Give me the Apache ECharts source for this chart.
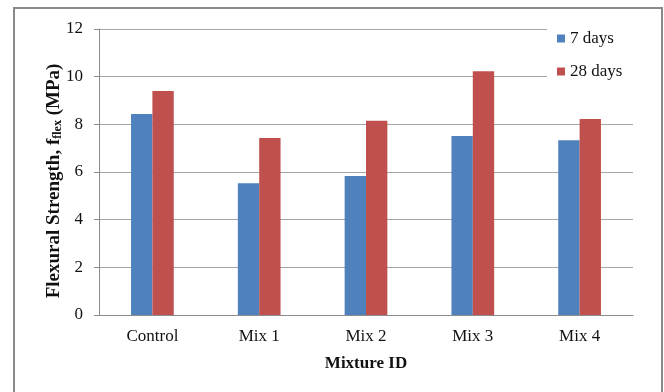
<!DOCTYPE html>
<html>
<head>
<meta charset="utf-8">
<script src="https://cdn.jsdelivr.net/npm/echarts@6/dist/echarts.min.js"></script>
<style>
  html, body { margin: 0; padding: 0; background: #fff; }
  #chart { width: 664px; height: 392px; }
</style>
</head>
<body>
<div id="chart"></div>
<script>
// Flexural strength by mixture at 7 and 28 days
const categories = ['Control', 'Mix 1', 'Mix 2', 'Mix 3', 'Mix 4'];
const days7 = [8.43, 5.53, 5.83, 7.51, 7.33];
const days28 = [9.40, 7.43, 8.15, 10.23, 8.22];
const yTicks = { min: 0, max: 12, interval: 2 };

const serif = '"Liberation Serif", "Times New Roman", serif';
const chart = echarts.init(document.getElementById('chart'), null, { renderer: 'canvas' });

chart.setOption({
  animation: false,
  backgroundColor: '#fff',
  textStyle: { fontFamily: serif },
  graphic: [{
    type: 'rect',
    shape: { x: 14, y: 8, width: 648, height: 400 },
    style: { fill: 'none', stroke: '#8a8a8a', lineWidth: 2 },
    z: 100
  }],
  grid: { left: 99, right: 31, top: 29, bottom: 77, containLabel: false },
  legend: {
    orient: 'vertical',
    left: 547,
    top: 26,
    padding: [4, 20, 12, 10],
    backgroundColor: '#fff',
    itemWidth: 8,
    itemHeight: 8,
    itemGap: 16,
    icon: 'rect',
    textStyle: { fontFamily: serif, fontSize: 17, color: '#111', padding: [0, 0, 0, 0] },
    data: ['7 days', '28 days'],
    z: 10
  },
  xAxis: {
    type: 'category',
    data: categories,
    axisLine: { lineStyle: { color: '#8c8c8c', width: 1 } },
    axisTick: { show: false },
    axisLabel: { fontFamily: serif, fontSize: 17, color: '#111', margin: 13 },
    name: 'Mixture ID',
    nameLocation: 'middle',
    nameGap: 40,
    nameMoveOverlap: false,
    nameTextStyle: { fontFamily: serif, fontSize: 17, fontWeight: 'bold', color: '#111' }
  },
  yAxis: {
    type: 'value',
    min: yTicks.min,
    max: yTicks.max,
    interval: yTicks.interval,
    axisLine: { show: true, lineStyle: { color: '#8c8c8c', width: 1 } },
    axisTick: { show: true, length: 5, lineStyle: { color: '#8c8c8c' } },
    axisLabel: { fontFamily: serif, fontSize: 17, color: '#111', margin: 16 },
    splitLine: { lineStyle: { color: '#a6a6a6', width: 1 } },
    name: '{b|Flexural Strength, f}{s|flex}{b| (MPa)}',
    nameLocation: 'middle',
    nameGap: 35,
    nameMoveOverlap: false,
    nameTextStyle: {
      padding: [0, 18, 0, 0],
      rich: {
        b: { fontFamily: serif, fontSize: 19, fontWeight: 'bold', color: '#111' },
        s: { fontFamily: serif, fontSize: 12, fontWeight: 'bold', color: '#111', padding: [8, 0, 0, 0] }
      }
    }
  },
  series: [
    {
      name: '7 days',
      type: 'bar',
      data: days7,
      barWidth: '20%',
      barGap: '0%',
      itemStyle: { color: '#4F81BD' }
    },
    {
      name: '28 days',
      type: 'bar',
      data: days28,
      barWidth: '20%',
      barGap: '0%',
      itemStyle: { color: '#C0504D' }
    }
  ]
});
</script>
</body>
</html>
